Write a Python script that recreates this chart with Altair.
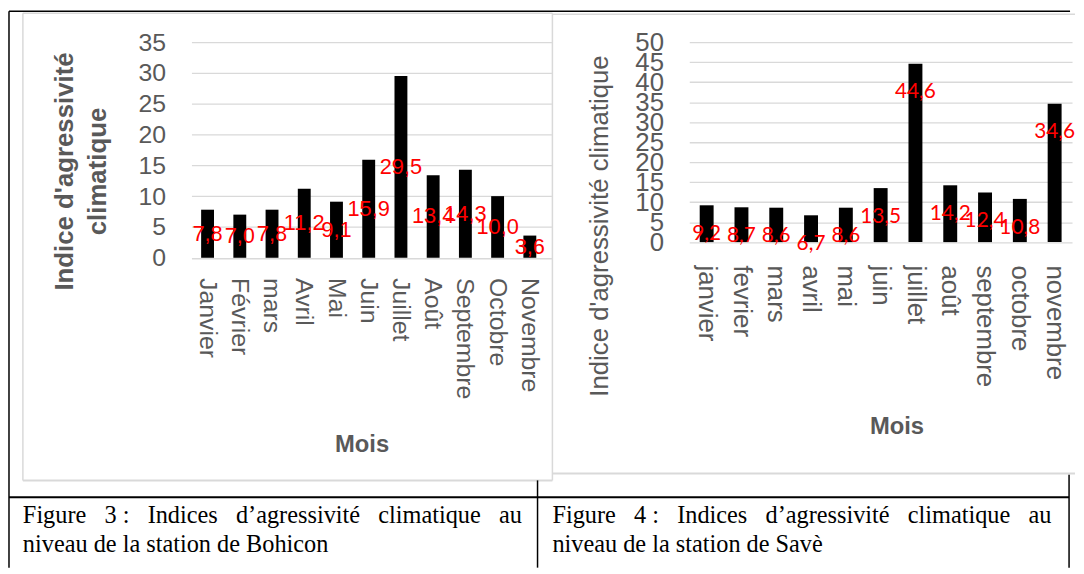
import altair as alt
import pandas as pd

# ---------------- data ----------------
months_bohicon = ["Janvier", "Février", "mars", "Avril", "Mai", "Juin", "Juillet",
                  "Août", "Septembre", "Octobre", "Novembre"]
values_bohicon = [7.8, 7.0, 7.8, 11.2, 9.1, 15.9, 29.5, 13.4, 14.3, 10.0, 3.6]

months_save = ["janvier", "fevrier", "mars", "avril", "mai", "juin", "juillet",
               "août", "septembre", "octobre", "novembre"]
values_save = [9.2, 8.7, 8.6, 6.7, 8.6, 13.5, 44.6, 14.2, 12.4, 10.8, 34.6]

ticks_bohicon = [0, 5, 10, 15, 20, 25, 30, 35]
ticks_save = [0, 5, 10, 15, 20, 25, 30, 35, 40, 45, 50]

gap = " \u00a0\u00a0"
caption_bohicon = [gap.join(["Figure", "3\u00a0:", "Indices", "d’agressivité", "climatique", "au"]),
                   "niveau de la station de Bohicon"]
caption_save = [gap.join(["Figure", "4\u00a0:", "Indices", "d’agressivité", "climatique", "au"]),
                "niveau de la station de Savè"]

# ---------------- style ----------------
GRAY = "#595959"
GRID = "#d9d9d9"
SANS = "Liberation Sans"
SERIF = "Liberation Serif"
RED = "#ff0000"

dfL = pd.DataFrame({"mois": months_bohicon, "v": values_bohicon})
dfR = pd.DataFrame({"mois": months_save, "v": values_save})

WL, HL = 363, 217.5
WR, HR = 386, 201.7


def one():
    return alt.Data(values=[{"k": 0}])


def hrule(x1, x2, y, color, w):
    return alt.Chart(one()).mark_rule(color=color, strokeWidth=w).encode(
        x=alt.value(x1), x2=alt.value(x2), y=alt.value(y))


def vrule(x, y1, y2, color, w):
    return alt.Chart(one()).mark_rule(color=color, strokeWidth=w).encode(
        x=alt.value(x), y=alt.value(y1), y2=alt.value(y2))


# ---------------- left chart (Bohicon) ----------------
xL = alt.X("mois:N", sort=months_bohicon,
           scale=alt.Scale(paddingInner=0.6, paddingOuter=0.385, align=0.39),
           axis=alt.Axis(title="Mois", titleFont=SANS, titleFontSize=24, titleFontWeight="bold",
                         titleColor=GRAY, titleX=171.5, titleY=188, titleBaseline="middle",
                         titleAlign="center", labelAngle=90, labelFont=SANS, labelFontSize=25,
                         labelColor=GRAY, labelPadding=20, ticks=False, tickSize=0,
                         domain=False, grid=False, labelOverlap=False))
yaxisL = alt.Axis(title=["Indice d'agressivité", "climatique"], titleFont=SANS, titleFontSize=26,
                  titleFontWeight="bold", titleColor=GRAY, titleAngle=-90, titleAlign="center",
                  titleBaseline="middle", titleX=-128, titleY=130, titleLineHeight=33,
                  values=ticks_bohicon, labelFont=SANS, labelFontSize=25, labelColor=GRAY,
                  labelPadding=26, ticks=False, tickSize=0, domain=False, grid=True,
                  gridColor=GRID, gridWidth=1.3, labelOverlap=False)
yscL = alt.Scale(domain=[0, 35], nice=False)

barsL = alt.Chart(dfL).mark_bar(color="black").encode(
    x=xL, y=alt.Y("v:Q", scale=yscL, axis=yaxisL))
textL = alt.Chart(dfL).transform_calculate(
    half="datum.v / 2", lab="replace(format(datum.v, '.1f'), '.', ',')"
).mark_text(color=RED, font=SANS, fontSize=22, baseline="middle", align="center").encode(
    x=xL, y=alt.Y("half:Q", scale=yscL, axis=yaxisL), text="lab:N")

capL = alt.Chart(one()).mark_text(text=caption_bohicon, font=SERIF, fontSize=24.5, color="black",
                                  align="left", baseline="alphabetic", lineHeight=29).encode(
    x=alt.value(-170), y=alt.value(485))

left = alt.layer(
    # gray frame of the left picture
    hrule(-170, 364, -29, GRID, 1.5),
    hrule(-170, 364, 442, GRID, 2),
    vrule(-170, -29, 442, GRID, 1.5),
    vrule(364, -29, 442, GRID, 1.5),
    # black table lines
    hrule(-184, 886, -31, "black", 1.5),
    vrule(-184, -31, 530, "black", 1.5),
    hrule(-184, 885, 459, "black", 2),
    vrule(349, 442, 530, "black", 1.5),
    vrule(885, 436, 530, "black", 1.5),
    barsL, textL, capL
).properties(width=WL, height=HL)

# ---------------- right chart (Savè) ----------------
xR = alt.X("mois:N", sort=months_save,
           scale=alt.Scale(paddingInner=0.6, paddingOuter=0.3),
           axis=alt.Axis(title="Mois", titleFont=SANS, titleFontSize=24, titleFontWeight="bold",
                         titleColor=GRAY, titleX=209, titleY=186, titleBaseline="middle",
                         titleAlign="center", labelAngle=90, labelFont=SANS, labelFontSize=26,
                         labelColor=GRAY, labelPadding=23, ticks=False, tickSize=0,
                         domain=False, grid=False, labelOverlap=False))
yaxisR = alt.Axis(title="Indice d'agressivité climatique", titleFont=SANS, titleFontSize=26,
                  titleFontWeight="normal", titleColor=GRAY, titleAngle=-90, titleAlign="center",
                  titleBaseline="middle", titleX=-90, titleY=185,
                  values=ticks_save, labelFont=SANS, labelFontSize=26, labelColor=GRAY,
                  labelPadding=26, ticks=False, tickSize=0, domain=False, grid=True,
                  gridColor=GRID, gridWidth=1.3, labelOverlap=False)
yscR = alt.Scale(domain=[0, 50], nice=False)

barsR = alt.Chart(dfR).mark_bar(color="black").encode(
    x=xR, y=alt.Y("v:Q", scale=yscR, axis=yaxisR))
textR = alt.Chart(dfR).transform_calculate(
    lab="replace(format(datum.v, '.1f'), '.', ',')"
).mark_text(color=RED, font="Lato", fontSize=21, baseline="middle", align="center", dy=29).encode(
    x=xR, y=alt.Y("v:Q", scale=yscR, axis=yaxisR), text="lab:N")

capR = alt.Chart(one()).mark_text(text=caption_save, font=SERIF, fontSize=24.5, color="black",
                                  align="left", baseline="alphabetic", lineHeight=29).encode(
    x=alt.value(-138), y=alt.value(485))

right = alt.layer(
    hrule(-138, 389, -28, GRID, 1.5),
    hrule(-138, 389, 435, GRID, 2),
    barsR, textR, capR
).properties(width=WR, height=HR)

chart = alt.hconcat(left, right, spacing=139, bounds="flush").configure_view(
    stroke=None).properties(padding=0, background="white")

chart.save("out.html", embed_options={"renderer": "svg", "actions": False})
